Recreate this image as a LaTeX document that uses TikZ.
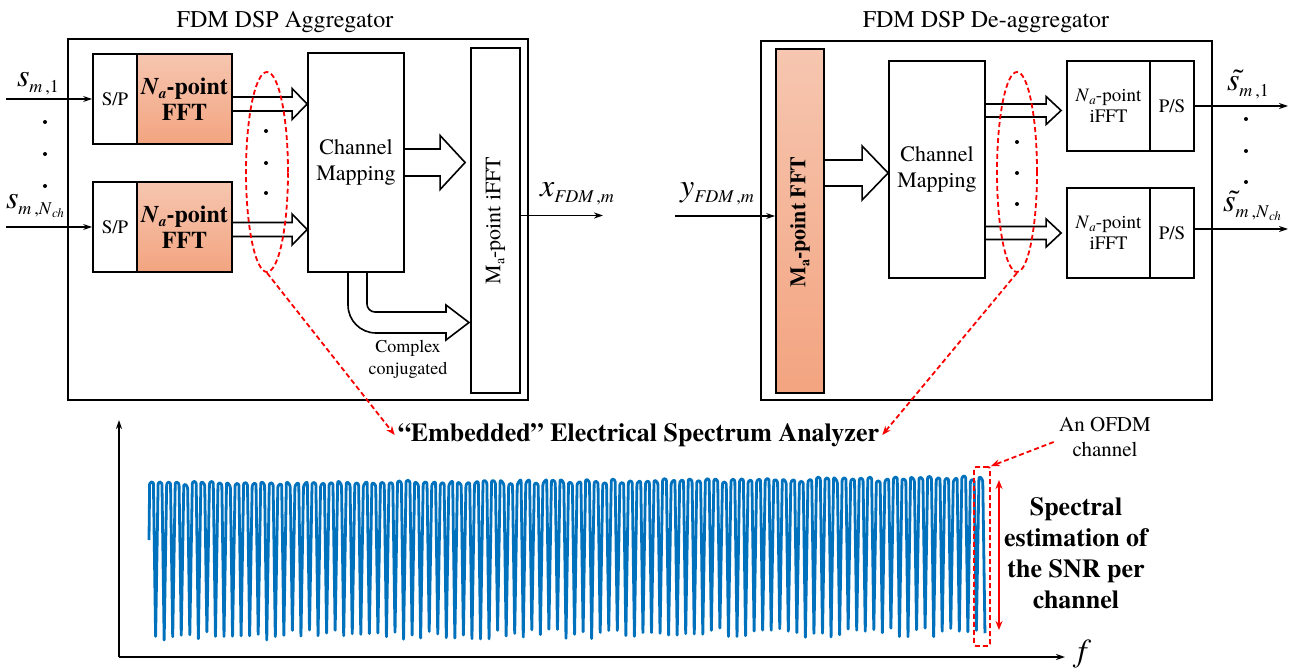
\documentclass[tikz,border=0pt]{standalone}
\usepackage{fontspec}
\setmainfont{texgyretermes-regular.otf}[BoldFont=texgyretermes-bold.otf, ItalicFont=texgyretermes-italic.otf, BoldItalicFont=texgyretermes-bolditalic.otf]
\usetikzlibrary{arrows.meta,calc,shapes.geometric}
\definecolor{orgA}{RGB}{246,198,176}
\definecolor{orgB}{RGB}{243,164,128}
\definecolor{wblue}{RGB}{0,114,189}
\definecolor{myred}{RGB}{250,0,0}
\newcommand\fsz[1]{\fontsize{#1}{#1}\selectfont}
\newcommand\tils{\makebox[0pt][l]{\hspace{0.12em}\textit{\char"02DC}}\textit{s}}
\newcommand\harrow[5]{\draw[harr] let \p1=#1, \p2=#2 in ({\x1},{\y1+#3}) -- ({\x2-#5},{\y1+#3}) -- ({\x2-#5},{\y1+#4}) -- (\x2,\y1) -- ({\x2-#5},{\y1-#4}) -- ({\x2-#5},{\y1-#3}) -- ({\x1},{\y1-#3});}
\tikzset{
  box/.style={draw, line width=1.8pt, inner sep=0pt, align=center},
  orng/.style={box, top color=orgA, bottom color=orgB},
  harr/.style={line width=1.6pt, line join=miter},
  thinarr/.style={line width=1.5pt, -{Stealth[length=9pt,width=6pt]}},
  reddash/.style={draw=myred, line width=1.8pt, dash pattern=on 5pt off 3pt},
  redtip/.style={-{Stealth[length=9pt,width=7pt,fill=myred]}},
  dotn/.style={circle, fill, inner sep=0pt, minimum size=4pt},
  wave/.style={draw=wblue, line width=2.8pt, rounded corners=2.2pt, line join=round},
}
\begin{document}
\begin{tikzpicture}[x=1pt,y=-1pt]
\fill[white] (0,0) rectangle (1298,671);
\useasboundingbox (0,0) rectangle (1298,671);

%% ---------------- Aggregator ----------------
\node[font=\fsz{24}] (t1) at (285,22) {FDM DSP Aggregator};
\node[box, minimum width=460, minimum height=361] (agg) at (298,219.5) {};
\node[box, minimum width=44, minimum height=90, font=\fsz{19}] (sp1) at (115,99) {S/P};
\node[orng, minimum width=95, minimum height=90, font=\fontsize{24}{26}\selectfont\bfseries] (fft1) at (184.5,99) {\textit{N}\raisebox{-4pt}{\fsz{15}\textit{a}}-point\\FFT};
\node[box, minimum width=44, minimum height=90, font=\fsz{19}] (sp2) at (115,227) {S/P};
\node[orng, minimum width=95, minimum height=90, font=\fontsize{24}{26}\selectfont\bfseries] (fft2) at (184.5,227) {\textit{N}\raisebox{-4pt}{\fsz{15}\textit{a}}-point\\FFT};

\coordinate (in1) at (6,99);
\coordinate (in2) at (6,227);
\draw[thinarr] (in1) -- (sp1.west);
\draw[thinarr] (in2) -- (sp2.west);
\node (ls1) at (38,84) {\fsz{32}\textit{s}\raisebox{-6pt}{\fsz{18}\textit{m\,},1}};
\node (ls2) at (35,206) {\fsz{32}\textit{s}\raisebox{-6pt}{\fsz{18}\textit{m\,},\textit{N}\raisebox{-3pt}{\fsz{13}\textit{ch}}}};
\node[dotn] (dl1) at (45,122) {};
\node[dotn] (dl2) at (45,154) {};
\node[dotn] (dl3) at (45,186) {};

\node[box, minimum width=96, minimum height=219, font=\fontsize{22}{26}\selectfont] (cm1) at (356,162.5) {Channel\\Mapping};
\node[box, minimum width=49, minimum height=345] (ifft1) at (495.5,220.5) {};
\node[rotate=90, font=\fsz{22}] (ifft1t) at (ifft1) {M\raisebox{-4pt}{\fsz{14}a}-point iFFT};

\harrow{($(fft1.east)+(0,5)$)}{(cm1.west)}{7pt}{15.5pt}{15pt}
\harrow{($(fft2.east)+(0,2.5)$)}{(cm1.west)}{7pt}{15.5pt}{15pt}
\harrow{(cm1.east)}{($(ifft1.west)+(-5,0)$)}{13.5pt}{27pt}{25pt}
\draw[harr] (348,272) -- (348,305) .. controls (348,320.5) and (360.5,333) .. (376,333) -- (446,333) -- (446,340) -- (469,322.5) -- (446,305) -- (446,312) -- (375,312) .. controls (370.6,312) and (367,308.4) .. (367,304) -- (367,272);
\node[font=\fontsize{18}{22}\selectfont, align=center] (cc) at (408,359) {Complex\\conjugated};

\node[dotn] (dm1) at (266,131) {};
\node[dotn] (dm2) at (266,163) {};
\node[dotn] (dm3) at (266,193) {};
\node[ellipse, reddash, minimum width=42, minimum height=200, inner sep=0pt] (ell1) at (267,172) {};

\coordinate (o1) at (603,215.5);
\draw[thinarr] ($(ifft1.east)+(0,-5)$) -- (o1);
\node (lx) at (577,194) {\fsz{32}\textit{x}\raisebox{-6pt}{\fsz{18}\textit{FDM\,},\textit{m}}};

%% ---------------- De-aggregator ----------------
\node[font=\fsz{24}] (t2) at (986,22) {FDM DSP De-aggregator};
\node[box, minimum width=451, minimum height=359] (dag) at (986.5,220.5) {};
\node[orng, minimum width=48, minimum height=344] (fft3) at (800,221) {};
\node[rotate=90, font=\fsz{22}\bfseries] (fft3t) at (800,222) {M\raisebox{-4pt}{\fsz{14}a}-point FFT};
\coordinate (yin) at (675,216);
\draw[thinarr] (yin) -- (yin -| fft3.west);
\node (ly) at (717,194) {\fsz{32}\textit{y}\raisebox{-6pt}{\fsz{18}\textit{FDM\,},\textit{m}}};

\node[box, minimum width=96, minimum height=217, font=\fontsize{22}{26}\selectfont] (cm2) at (937,169.5) {Channel\\Mapping};
\harrow{($(fft3.east)+(0,-48)$)}{(cm2.west)}{13pt}{27pt}{26pt}

\node[box, minimum width=83, minimum height=90, font=\fontsize{19}{21}\selectfont] (ifft2) at (1108.5,106) {\textit{N}\raisebox{-3pt}{\fsz{13}\textit{a}}-point\\iFFT};
\node[box, minimum width=44, minimum height=90, font=\fsz{19}] (ps2) at (1172,106) {P/S};
\node[box, minimum width=83, minimum height=90, font=\fontsize{19}{21}\selectfont] (ifft3) at (1108.5,233) {\textit{N}\raisebox{-3pt}{\fsz{13}\textit{a}}-point\\iFFT};
\node[box, minimum width=44, minimum height=90, font=\fsz{19}] (ps3) at (1172,233) {P/S};

\harrow{($(cm2.east |- ifft2.west)+(0,4.5)$)}{($(ifft2.west)+(-5,0)$)}{6.5pt}{14pt}{15pt}
\harrow{(cm2.east |- ifft3.west)}{($(ifft3.west)+(-5,0)$)}{6.5pt}{14pt}{15pt}

\node[dotn] (dr1) at (1017,142) {};
\node[dotn] (dr2) at (1017,173) {};
\node[dotn] (dr3) at (1017,204) {};
\node[ellipse, reddash, minimum width=40, minimum height=200, inner sep=0pt] (ell2) at (1017,172) {};

\coordinate (out1) at (1288,106);
\coordinate (out2) at (1288,229);
\draw[thinarr] (ps2.east) -- (out1);
\draw[thinarr] ($(ps3.east)+(0,-4)$) -- (out2);
\node (lo1) at (1248,84) {\fsz{32}\tils\raisebox{-6pt}{\fsz{18}\textit{m\,},1}};
\node (lo2) at (1252,206) {\fsz{32}\tils\raisebox{-6pt}{\fsz{18}\textit{m\,},\textit{N}\raisebox{-3pt}{\fsz{13}\textit{ch}}}};
\node[dotn] (dq1) at (1246,119) {};
\node[dotn] (dq2) at (1246,151) {};
\node[dotn] (dq3) at (1246,182) {};

%% ---------------- Spectrum analyzer ----------------
\coordinate (org) at (119,657);
\coordinate (yax) at (119,420);
\coordinate (xax) at (1065,657);
\draw[line width=1.8pt, -{Stealth[length=9pt,width=6pt]}] (org) -- (yax);
\draw[line width=1.8pt, -{Stealth[length=9pt,width=6pt]}] (org) -- (xax);
\node[font=\fsz{32}\itshape] (fl) at (1082,654) {f};

\node[font=\fsz{26}\bfseries, inner sep=3pt] (t3) at (638.5,435) {“Embedded” Electrical Spectrum Analyzer};

\pgfmathsetseed{17}
\draw[wave] (149,540) -- (149.6,486)
  \foreach \k in {0,...,97}{
    -- ({149+\k*8.55+0.6},{484-6*\k/97+2.5*rand})
    -- ({149+\k*8.55+4.4},{484-6*\k/97+2.5*rand})
    -- ({149+\k*8.55+6.6},{637-4*\k/97+5*rand})
  };

\node[reddash, rounded corners=2pt, minimum width=16, minimum height=179, inner sep=0pt] (ch) at (982,556.5) {};
\coordinate (s1) at (999,480);
\coordinate (s2) at (999,630);
\draw[myred, line width=1.8pt, {Stealth[length=9pt,width=7pt]}-{Stealth[length=9pt,width=7pt]}] (s1) -- (s2);

\node[font=\fontsize{21}{25}\selectfont, align=center] (ofdm) at (1105,437) {An OFDM\\channel};
\node[font=\fontsize{26}{31}\selectfont\bfseries, align=center] (snr) at (1076,553) {Spectral\\estimation of\\the SNR per\\channel};

\draw[reddash, redtip] (ell1.south) -- (t3.west);
\draw[reddash, redtip] (ell2.south) -- (t3.east);
\draw[reddash, redtip] ($(ofdm.west)+(-2,5)$) -- (ch.north east);
\end{tikzpicture}
\end{document}
